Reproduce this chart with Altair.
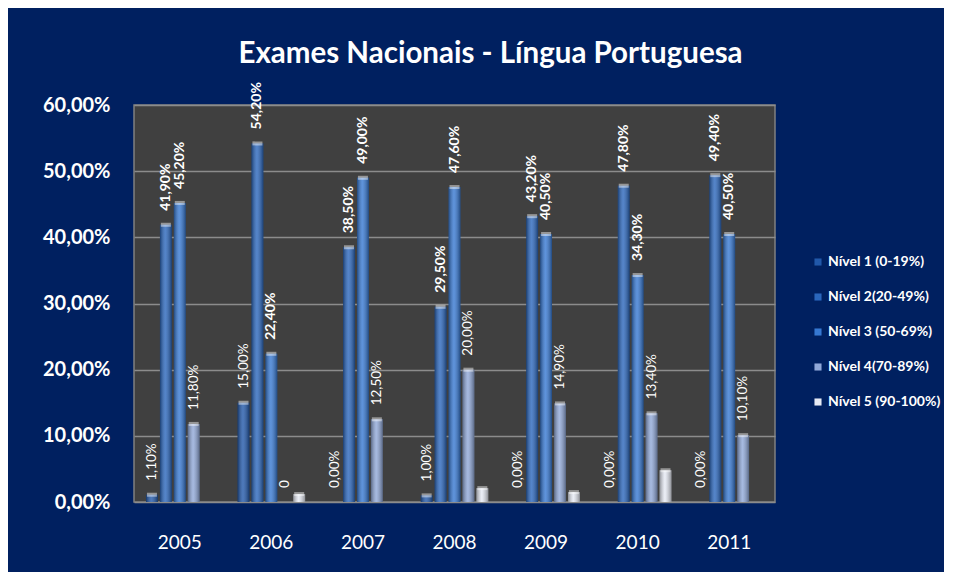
import altair as alt
import pandas as pd

years = ["2005", "2006", "2007", "2008", "2009", "2010", "2011"]
levels = ["Nível 1 (0-19%)", "Nível 2(20-49%)", "Nível 3 (50-69%)", "Nível 4(70-89%)", "Nível 5 (90-100%)"]

nivel1 = [1.1, 15.0, 0.0, 1.0, 0.0, 0.0, 0.0]
nivel2 = [41.9, 54.2, 38.5, 29.5, 43.2, 47.8, 49.4]
nivel3 = [45.2, 22.4, 49.0, 47.6, 40.5, 34.3, 40.5]
nivel4 = [11.8, 0.0, 12.5, 20.0, 14.9, 13.4, 10.1]
nivel5 = [0.0, 1.2, 0.0, 2.1, 1.5, 4.8, 0.0]

labels1 = ["1,10%", "15,00%", "0,00%", "1,00%", "0,00%", "0,00%", "0,00%"]
labels2 = ["41,90%", "54,20%", "38,50%", "29,50%", "43,20%", "47,80%", "49,40%"]
labels3 = ["45,20%", "22,40%", "49,00%", "47,60%", "40,50%", "34,30%", "40,50%"]
labels4 = ["11,80%", "0", "12,50%", "20,00%", "14,90%", "13,40%", "10,10%"]
labels5 = ["", "", "", "", "", "", ""]

bold_levels = [False, True, True, False, False]
colors = ["#2158aa", "#2a66bc", "#3678d2", "#90a8d8", "#e6eaf4"]

series = [nivel1, nivel2, nivel3, nivel4, nivel5]
label_sets = [labels1, labels2, labels3, labels4, labels5]

rows = []
for li, lvl in enumerate(levels):
    for yi, yr in enumerate(years):
        rows.append({
            "year": yr,
            "level": lvl,
            "value": series[li][yi],
            "label": label_sets[li][yi],
            "bold": bold_levels[li],
        })
df = pd.DataFrame(rows)

FONT = "Lato"

x_enc = alt.X("year:N", sort=years,
              scale=alt.Scale(paddingInner=0.24, paddingOuter=0.12),
              axis=alt.Axis(title=None, ticks=False, domain=False, labelAngle=0,
                            labelColor="white", labelFont=FONT, labelFontSize=19,
                            labelPadding=31, grid=False))
xo_enc = alt.XOffset("level:N", sort=levels,
                     scale=alt.Scale(domain=levels, paddingInner=0.15, paddingOuter=0.075))
y_enc = alt.Y("value:Q",
              scale=alt.Scale(domain=[0, 60], nice=False),
              axis=alt.Axis(title=None, values=[0, 10, 20, 30, 40, 50, 60], ticks=False, domain=False,
                            labelExpr="replace(format(datum.value, '.2f'), '.', ',') + '%'",
                            labelColor="white", labelFont=FONT, labelFontSize=20,
                            labelFontWeight="bold", labelPadding=24,
                            gridColor="#8c8c8c", gridWidth=1.5))

base = alt.Chart(df)

bars = base.mark_bar(strokeWidth=0).encode(
    x=x_enc, xOffset=xo_enc, y=y_enc,
    color=alt.Color("level:N", sort=levels,
                    scale=alt.Scale(domain=levels, range=colors),
                    legend=alt.Legend(title=None, orient="none", legendX=677, legendY=150,
                                      symbolType="square", symbolSize=50, symbolStrokeWidth=0,
                                      labelColor="white", labelFont=FONT, labelFontSize=14,
                                      labelFontWeight="bold", rowPadding=21, labelOffset=3,
                                      padding=0)),
)

shade = base.mark_bar(
    strokeWidth=0,
    fill={
        "gradient": "linear", "x1": 0, "x2": 1, "y1": 0, "y2": 0,
        "stops": [
            {"offset": 0, "color": "rgba(0,0,0,0.38)"},
            {"offset": 0.45, "color": "rgba(255,255,255,0.2)"},
            {"offset": 1, "color": "rgba(0,0,0,0.38)"},
        ],
    },
).encode(x=x_enc, xOffset=xo_enc, y=y_enc)

caps = base.transform_filter("datum.value > 0").mark_tick(
    thickness=4, size=10, color="white", opacity=0.45,
).encode(x=x_enc, xOffset=xo_enc, y=y_enc)

text_bold = base.transform_filter("datum.bold").mark_text(
    angle=270, align="left", baseline="middle", dx=14,
    font=FONT, fontSize=14, fontWeight="bold", color="white",
).encode(x=x_enc, xOffset=xo_enc, y=y_enc, text="label:N")

text_norm = base.transform_filter("!datum.bold").mark_text(
    angle=270, align="left", baseline="middle", dx=14,
    font=FONT, fontSize=13.5, fontWeight="normal", color="white",
).encode(x=x_enc, xOffset=xo_enc, y=y_enc, text="label:N")

chart = alt.layer(bars, shade, caps, text_bold, text_norm).properties(
    width=641, height=397,
    title=alt.TitleParams("Exames Nacionais - Língua Portuguesa", font=FONT, fontSize=29.5,
                          fontWeight="bold", color="white", anchor="middle", dx=36, offset=13),
    autosize=alt.AutoSizeParams(type="none"),
    padding={"left": 126, "top": 97, "right": 169, "bottom": 70},
).configure(
    background="#002060",
).configure_view(
    fill="#404040", stroke="#808080", strokeWidth=1.5,
)

chart.save("out.html", embed_options={"renderer": "svg", "actions": False})
